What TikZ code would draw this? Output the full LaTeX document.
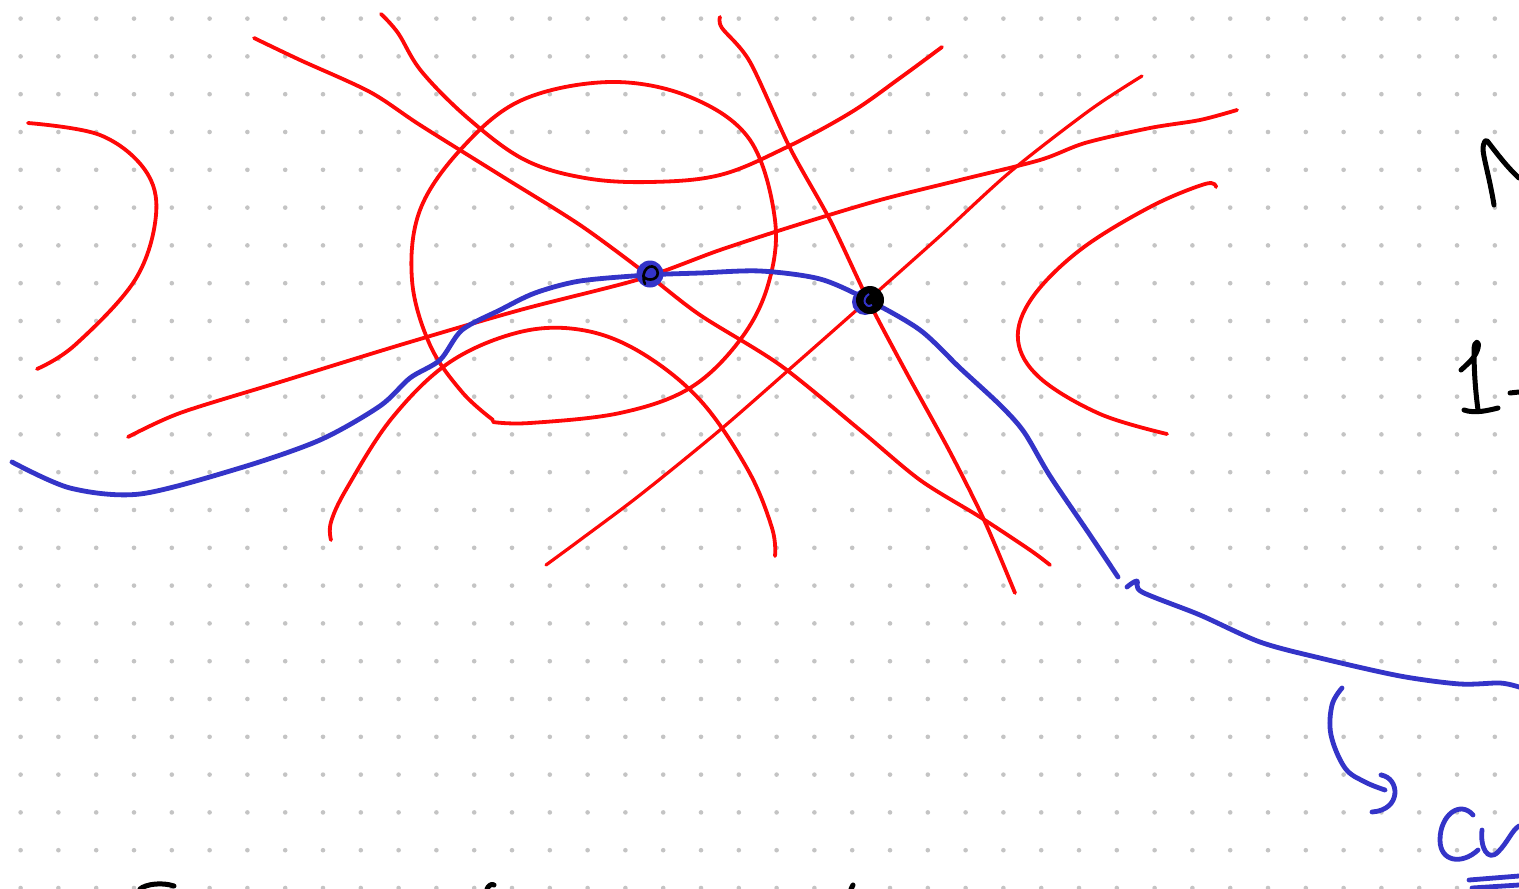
\documentclass[tikz,border=0pt]{standalone}
\definecolor{pen}{RGB}{255,8,8}
\definecolor{ink}{RGB}{52,52,200}
\definecolor{dotc}{RGB}{196,196,196}
\tikzset{
  redline/.style={draw=pen,line width=3.8pt,line cap=round,line join=round},
  blueline/.style={draw=ink,line width=4.8pt,line cap=round,line join=round},
  blackline/.style={draw=black,line width=5pt,line cap=round,line join=round},
}
\begin{document}
\begin{tikzpicture}[x=1pt,y=-1pt]
\useasboundingbox (0,0) rectangle (1519,889);
\fill[white] (0,0) rectangle (1519,889);
% dot grid
\foreach \i in {0,...,39} {
  \foreach \j in {0,...,23} {
    \fill[dotc] (20.6+37.8*\i,18.6+37.8*\j) circle (2.3);
  }
}
% red curves
\draw[redline] plot[smooth,tension=0.6] coordinates {(28,123) (100,135) (145,170) (156,215) (135,280) (75,345) (37,369)};
\draw[redline] plot[smooth,tension=0.5] coordinates {(254,38) (300,60) (370,92) (420,125) (500,175) (580,225) (648,275) (700,315) (780,365) (860,430) (920,480) (980,517) (1030,550) (1050,565)};
\draw[redline] plot[smooth,tension=0.6] coordinates {(381,14) (398,33) (422,72) (470,120) (525,160) (585,178) (650,182) (720,175) (785,148) (850,113) (900,78) (942,47)};
\draw[redline] plot[smooth,tension=0.5] coordinates {(720,17) (722,28) (750,62) (790,148) (830,220) (868,300) (905,370) (950,452) (985,522) (1015,593)};
\draw[redline] plot[smooth,tension=0.6] coordinates {(493,420) (462,392) (430,345) (412,280) (420,210) (462,148) (522,100) (610,82) (690,97) (750,140) (775,220) (768,285) (740,340) (690,388) (620,413) (530,423) (493,422)};
\draw[redline] plot[smooth,tension=0.5] coordinates {(128,437) (180,413) (280,382) (400,345) (520,310) (640,279) (720,250) (800,224) (880,200) (960,180) (1040,160) (1085,143) (1150,128) (1200,120) (1237,110)};
\draw[redline,line width=3.2pt] plot[smooth,tension=0.5] coordinates {(1142,76) (1090,110) (1010,172) (940,236) (868,300) (800,360) (720,430) (640,495) (580,540) (546,565)};
\draw[redline] plot[smooth,tension=0.6] coordinates {(331,540) (331,522) (347,488) (392,418) (450,362) (520,332) (582,330) (640,352) (700,400) (748,470) (772,528) (775,556)};
\draw[redline] plot[smooth,tension=0.6] coordinates {(1216,187) (1205,184) (1150,207) (1080,250) (1032,298) (1018,340) (1040,378) (1100,414) (1167,434)};
% blue curve
\draw[blueline] plot[smooth,tension=0.5] coordinates {(12,462) (70,488) (140,494) (240,468) (320,440) (380,406) (410,378) (440,360) (462,330) (500,310) (535,293) (580,281) (648,275) (700,273) (760,271) (820,279) (868,300) (920,330) (960,368) (1000,405) (1024,432) (1050,476) (1090,535) (1118,577)};
\draw[blueline] plot[smooth,tension=0.5] coordinates {(1127,587) (1137,581) (1142,592) (1200,615) (1260,642) (1320,658) (1400,676) (1460,684) (1500,683) (1519,687)};
% intersection points
\fill[ink] (650,274) circle (13.5);
\draw[black,line width=2.6pt,line cap=round] (645,284) .. controls (639,270) and (652,261) .. (657,270) .. controls (661,279) and (648,283) .. (643,276);
\fill[ink] (865,302) circle (13);
\fill[black] (870,300) circle (14);
\draw[ink,line width=2pt] (869,294) .. controls (861,299) and (865,309) .. (872,305);
% blue annotation arrow and text
\draw[blueline] plot[smooth,tension=0.6] coordinates {(1342,688) (1332,705) (1331,735) (1345,768) (1365,782) (1385,790)};
\draw[blueline] (1381,775) .. controls (1400,778) and (1402,810) .. (1372,812);
\draw[blueline] (1473,815) .. controls (1460,800) and (1440,815) .. (1440,840) .. controls (1440,862) and (1462,865) .. (1478,850);
\draw[blueline] (1482,830) .. controls (1480,848) and (1488,862) .. (1498,852) .. controls (1508,842) and (1512,830) .. (1519,826);
\draw[blueline] (1469,880) -- (1519,876);
\draw[blueline] (1472,888) -- (1519,885);
% black writing at right edge
\draw[blackline] (1494,205) .. controls (1490,180) and (1484,160) .. (1483,150) .. controls (1483,142) and (1486,138) .. (1488,142) .. controls (1498,155) and (1508,168) .. (1519,178);
\draw[blackline] (1461,370) .. controls (1470,362) and (1476,356) .. (1478,348) .. controls (1480,340) and (1474,340) .. (1474,350) .. controls (1474,375) and (1476,395) .. (1478,410);
\draw[blackline] (1464,410) .. controls (1475,414) and (1490,410) .. (1498,408);
\draw[blackline] (1510,393) -- (1519,392);
% partial writing at bottom edge
\draw[blackline] (140,889) .. controls (146,884) and (162,882) .. (174,886);
\draw[blackline] (487,889) .. controls (488,886) and (492,883) .. (494,885);
\draw[blackline] (851,889) -- (853,885);
\end{tikzpicture}
\end{document}
